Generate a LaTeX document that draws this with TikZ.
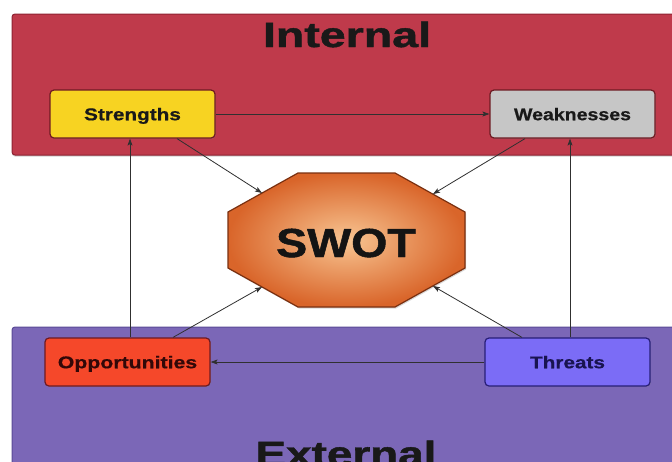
\documentclass[tikz,border=0pt]{standalone}
\usepackage{fontspec}
\setmainfont{Liberation Sans}
\newfontfamily\heavyfont{Liberation Sans Bold}[FakeBold=1.2]
\newfontfamily\semiheavy{Liberation Sans Bold}[FakeBold=0.6]
\usepackage{graphicx}
\usetikzlibrary{arrows.meta,shadows,calc}
\definecolor{intred}{HTML}{BF3A4B}
\definecolor{intedge}{HTML}{8E2232}
\definecolor{extpurple}{HTML}{7B67B7}
\definecolor{extedge}{HTML}{5A4A96}
\definecolor{stryellow}{HTML}{F7D322}
\definecolor{weakgray}{HTML}{C6C6C6}
\definecolor{opporange}{HTML}{F5482A}
\definecolor{thrblue}{HTML}{7B6CF6}
\definecolor{boxedge}{HTML}{6E1A22}
\definecolor{octin}{HTML}{F8C592}
\definecolor{octout}{HTML}{D9652A}
\definecolor{octedge}{HTML}{7A3010}
\definecolor{arrgray}{HTML}{303030}
\newcommand\wtxt[2][1.22]{\scalebox{#1}[1]{#2}}
\tikzset{
  band/.style={rounded corners=3pt, line width=1pt,
    drop shadow={opacity=0.35, shadow xshift=0pt, shadow yshift=-1.5pt}},
  swotbox/.style={draw=boxedge, line width=1.2pt, rounded corners=4pt,
    minimum width=165pt, minimum height=48pt, inner sep=0pt,
    text height=12.5pt, text depth=0pt,
    font=\fontsize{17}{17}\selectfont\semiheavy,
    drop shadow={opacity=0.3, shadow xshift=0.8pt, shadow yshift=-1pt}},
  arr/.style={draw=arrgray, line width=0.8pt,
    -{Stealth[length=7pt, width=5pt, inset=1.5pt]}},
  bigtitle/.style={anchor=base, inner sep=0pt, text=black!90,
    font=\fontsize{35}{35}\selectfont\heavyfont}
}
\begin{document}
\begin{tikzpicture}[x=1pt, y=-1pt]
\clip (0,0) rectangle (672,461);
\fill[white] (0,0) rectangle (672,461);
% bands
\draw[band, fill=intred, draw=intedge] (12,14) rectangle (690,155);
\draw[band, fill=extpurple, draw=extedge] (12,327) rectangle (690,480);
\node[bigtitle] (internal) at (347,47) {\wtxt[1.33]{Internal}};
\node[bigtitle] (external) at (346,466) {\wtxt[1.31]{External}};
% boxes
\node[swotbox, fill=stryellow, text=black!90] (str) at (132.5,114) {\wtxt{Strengths}};
\node[swotbox, fill=weakgray, text=black!90] (weak) at (572.5,114) {\wtxt[1.15]{Weaknesses}};
\node[swotbox, fill=opporange, text={rgb,255:red,50;green,8;blue,8}] (opp) at (127.5,362) {\wtxt[1.25]{Opportunities}};
\node[swotbox, fill=thrblue, draw={rgb,255:red,40;green,30;blue,120}, text={rgb,255:red,25;green,20;blue,80}] (thr) at (567.5,362) {\wtxt{Threats}};
% octagon
\draw[octedge, line width=1.2pt, inner color=octin, outer color=octout,
  drop shadow={opacity=0.3, shadow xshift=1pt, shadow yshift=-1.5pt}]
  (298,173) -- (395,173) -- (465,212) -- (465,268) -- (395,307)
  -- (298,307) -- (228,268) -- (228,212) -- cycle;
\node[inner sep=0pt, anchor=base, text=black!92,
  font=\fontsize{40.5}{40.5}\selectfont\heavyfont] (swot) at (346,257) {\wtxt[1.15]{SWOT}};
\coordinate (e1) at (262,193);
\coordinate (e2) at (433,194);
\coordinate (e3) at (262,287);
\coordinate (e4) at (433,286);
% connectors
\draw[arr] (str.east) -- (weak.west);
\draw[arr] (thr.west) -- (opp.east);
\draw[arr] ([xshift=2.5pt]opp.north) -- ([xshift=-2.5pt]str.south);
\draw[arr] ([xshift=2.5pt]thr.north) -- ([xshift=-2.5pt]weak.south);
\draw[arr] ([xshift=44.5pt]str.south) -- (e1);
\draw[arr] ([xshift=-47.5pt]weak.south) -- (e2);
\draw[arr] ([xshift=45.5pt]opp.north) -- (e3);
\draw[arr] ([xshift=-45.5pt]thr.north) -- (e4);
\end{tikzpicture}
\end{document}
